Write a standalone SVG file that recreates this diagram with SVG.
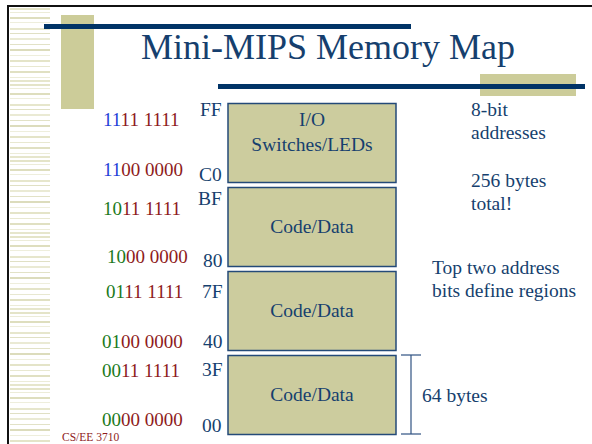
<svg xmlns="http://www.w3.org/2000/svg" width="592" height="444" viewBox="0 0 592 444">
  <style>
    .t { font-family: 'Liberation Serif', 'Times New Roman', Times, 'DejaVu Serif', serif; }
    .navy { fill: #163F6E; }
    .blue { fill: #1F3FD8; }
    .red { fill: #8E1B1B; }
    .green { fill: #1B7A1B; }
    .box { fill: #CCCC9E; stroke: #244A78; stroke-width: 1.5; }
    .lbl { font-size: 19.5px; }
    .bin { font-size: 19px; }
    .hex { font-size: 19.5px; }
    .bar { fill: #003366; }
    .olive { fill: #CCCC99; }
  </style>
  <defs>
    <pattern id="stripes" x="0" y="8" width="40" height="76" patternUnits="userSpaceOnUse">
      <rect x="0" y="0" width="40" height="2" fill="#E4E4C8"/>
      <rect x="0" y="4" width="40" height="1" fill="#ECECD8"/>
      <rect x="0" y="9" width="40" height="2" fill="#DEDEBE"/>
      <rect x="0" y="14" width="40" height="1" fill="#EEEEDC"/>
      <rect x="0" y="20" width="40" height="2" fill="#E6E6CC"/>
      <rect x="0" y="25" width="40" height="1" fill="#E0E0C4"/>
      <rect x="0" y="30" width="40" height="2" fill="#EAEAD4"/>
      <rect x="0" y="36" width="40" height="1" fill="#E2E2C6"/>
      <rect x="0" y="41" width="40" height="2" fill="#DCDCBC"/>
      <rect x="0" y="47" width="40" height="1" fill="#EEEEDC"/>
      <rect x="0" y="52" width="40" height="2" fill="#E4E4C8"/>
      <rect x="0" y="58" width="40" height="1" fill="#E8E8D0"/>
      <rect x="0" y="63" width="40" height="2" fill="#E0E0C2"/>
      <rect x="0" y="69" width="40" height="1" fill="#ECECD8"/>
      <rect x="0" y="72" width="40" height="2" fill="#E6E6CC"/>
    </pattern>
  </defs>

  <rect width="592" height="444" fill="#FFFFFF"/>

  <!-- slide frame and decoration -->
  <rect x="10" y="8" width="40" height="436" fill="url(#stripes)"/>
  <rect x="7" y="5" width="2" height="439" fill="#111111"/>
  <rect x="7" y="5" width="585" height="2" fill="#111111"/>
  <rect x="61" y="15" width="33" height="94" class="olive"/>
  <rect x="44" y="24" width="367" height="5" class="bar"/>
  <rect x="480" y="74" width="96" height="22" class="olive"/>
  <rect x="218" y="84" width="367" height="5" class="bar"/>

  <text x="328" y="59" text-anchor="middle" class="t navy" font-size="36">Mini-MIPS Memory Map</text>

  <!-- memory regions -->
  <g id="region-io">
    <rect x="228" y="103.5" width="168" height="79" class="box"/>
    <text x="312" y="126" text-anchor="middle" class="t navy lbl">I/O</text>
    <text x="312" y="151" text-anchor="middle" class="t navy lbl">Switches/LEDs</text>
  </g>
  <g id="region-80">
    <rect x="228" y="187.5" width="168" height="79" class="box"/>
    <text x="312" y="233" text-anchor="middle" class="t navy lbl">Code/Data</text>
  </g>
  <g id="region-40">
    <rect x="228" y="271.5" width="168" height="79" class="box"/>
    <text x="312" y="317" text-anchor="middle" class="t navy lbl">Code/Data</text>
  </g>
  <g id="region-00">
    <rect x="228" y="355.5" width="168" height="79" class="box"/>
    <text x="312" y="401" text-anchor="middle" class="t navy lbl">Code/Data</text>
  </g>

  <!-- hex addresses -->
  <g id="hex" class="t navy hex">
    <text x="200" y="116">FF</text>
    <text x="199" y="181">C0</text>
    <text x="198" y="205">BF</text>
    <text x="203" y="267">80</text>
    <text x="202" y="298">7F</text>
    <text x="203" y="348">40</text>
    <text x="202" y="376">3F</text>
    <text x="202" y="432">00</text>
  </g>

  <!-- binary addresses -->
  <g id="binary" class="t bin">
    <text x="103" y="126"><tspan class="blue">11</tspan><tspan class="red">11 1111</tspan></text>
    <text x="103" y="176"><tspan class="blue">11</tspan><tspan class="red">00 0000</tspan></text>
    <text x="103" y="215"><tspan class="green">10</tspan><tspan class="red">11 1111</tspan></text>
    <text x="107" y="263"><tspan class="green">10</tspan><tspan class="red">00 0000</tspan></text>
    <text x="106" y="298"><tspan class="green">01</tspan><tspan class="red">11 1111</tspan></text>
    <text x="102" y="348"><tspan class="green">01</tspan><tspan class="red">00 0000</tspan></text>
    <text x="102" y="377"><tspan class="green">00</tspan><tspan class="red">11 1111</tspan></text>
    <text x="102" y="426"><tspan class="green">00</tspan><tspan class="red">00 0000</tspan></text>
  </g>

  <!-- notes -->
  <g id="notes" class="t navy lbl">
    <text x="471" y="116">8-bit</text>
    <text x="471" y="139">addresses</text>
    <text x="471" y="187">256 bytes</text>
    <text x="471" y="210">total!</text>
    <text x="432" y="274">Top two address</text>
    <text x="432" y="297">bits define regions</text>
  </g>

  <!-- size bracket -->
  <g id="connectors" stroke="#2F5282" stroke-width="1.2" fill="none">
    <line x1="401" y1="355" x2="421" y2="355"/>
    <line x1="411" y1="355" x2="411" y2="434"/>
    <line x1="401" y1="434" x2="421" y2="434"/>
  </g>
  <text x="422" y="402" class="t navy lbl">64 bytes</text>

  <text x="62" y="441" class="t red" font-size="11.5">CS/EE 3710</text>
</svg>
